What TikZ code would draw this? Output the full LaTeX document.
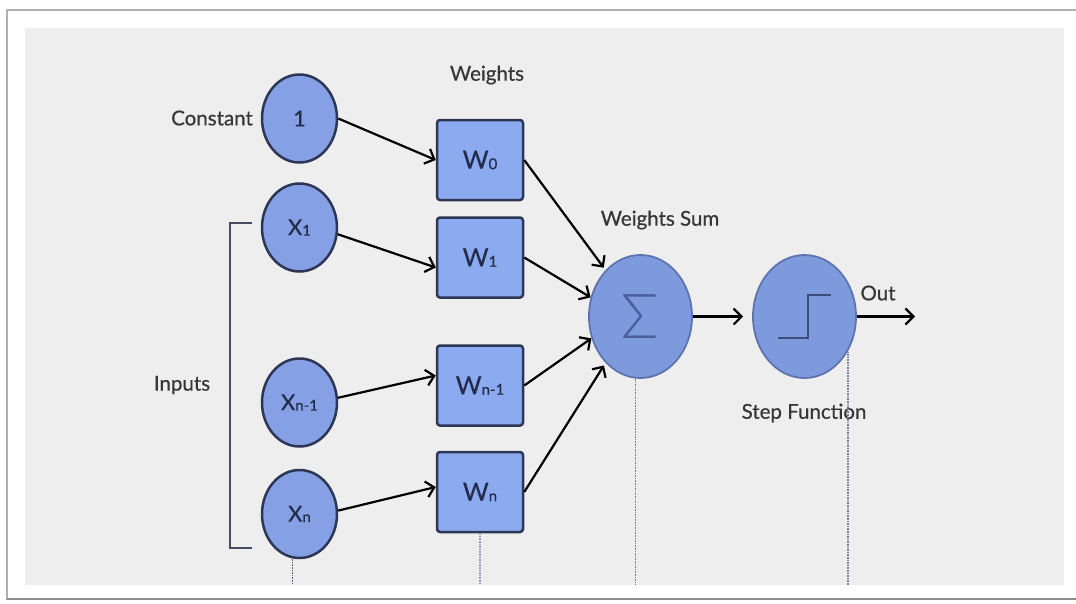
\documentclass[tikz,border=0pt]{standalone}
\usepackage{fontspec}
\setmainfont{Lato}[FakeBold=0.6]
\newfontfamily\thinlato{Lato Light}
\usetikzlibrary{shapes.geometric,arrows.meta,calc}

\definecolor{panel}{RGB}{238,238,238}
\definecolor{frameline}{RGB}{175,175,175}
\definecolor{infill}{RGB}{133,160,228}
\definecolor{inedge}{RGB}{45,55,85}
\definecolor{wfill}{RGB}{140,170,240}
\definecolor{sumfill}{RGB}{125,155,220}
\definecolor{sumedge}{RGB}{95,115,175}
\definecolor{glyph}{RGB}{75,95,155}
\definecolor{labeltext}{RGB}{55,55,55}
\definecolor{nodetext}{RGB}{35,45,75}
\definecolor{bracketc}{RGB}{70,75,95}
\definecolor{guidedark}{RGB}{90,90,105}
\definecolor{guidelight}{RGB}{140,155,210}
\definecolor{guide}{RGB}{115,125,165}

% small index letters set on the baseline
\newcommand\lowidx[1]{{\fontsize{15}{15}\selectfont\raisebox{-0.5pt}{#1}}}

\begin{document}
\begin{tikzpicture}[x=1pt,y=-1pt,
  inputnode/.style={ellipse, draw=inedge, line width=2.5pt, fill=infill,
    minimum width=75pt, minimum height=88pt, inner sep=0pt, text=nodetext,
    font=\fontsize{22}{22}\selectfont},
  weightbox/.style={rectangle, rounded corners=3pt, draw=inedge, line width=2.5pt,
    fill=wfill, minimum width=86pt, minimum height=80pt, inner sep=0pt,
    text=nodetext, font=\fontsize{25}{25}\selectfont},
  unitnode/.style={ellipse, draw=sumedge, line width=1.8pt, fill=sumfill,
    minimum width=103pt, minimum height=123pt, inner sep=0pt},
  caption/.style={text=labeltext, font=\fontsize{20.5}{20.5}\selectfont, inner sep=0pt},
  link/.style={draw=black, line width=2.2pt,
    -{Straight Barb[length=8pt,width=16pt]}},
  guideline/.style={densely dotted, line width=1.6pt}
]
\useasboundingbox (0,0) rectangle (1076,603);

% page, frame and grey panel
\fill[white] (0,0) rectangle (1076,603);
\draw[frameline, line width=1.5pt] (7,600) -- (7,10) -- (1076,10);
\draw[frameline!80!black, line width=2.5pt] (7,599) -- (1076,599);
\fill[panel] (25,28) rectangle (1064,585);
\coordinate (base) at (0,585);

% input bracket
\draw[bracketc, line width=2.2pt] (252,223) -- (230,223) -- (230,548) -- (252,548);

% input nodes
\node[inputnode] (one) at (299.5,118.5) {1};
\node[inputnode] (x1)  at (299.5,227.5) {X\lowidx{1}};
\node[inputnode] (xn1) at (299.5,402.5) {X\lowidx{n-1}};
\node[inputnode] (xn)  at (299.5,514)   {X\lowidx{n}};

% weights
\node[weightbox] (w0)  at (480,160)   {W\lowidx{0}};
\node[weightbox] (w1)  at (480,257.5) {W\lowidx{1}};
\node[weightbox] (wn1) at (480,385.5) {W\lowidx{n-1}};
\node[weightbox] (wn)  at (480,492)   {W\lowidx{n}};

% summation and activation
\node[unitnode] (sum)  at (640.5,316.5) {};
\node[text=glyph, font=\thinlato\fontsize{62}{62}\selectfont, inner sep=0pt] (sigma) at (sum.center) {Σ};
\node[unitnode] (step) at (804.5,316.5) {};
\draw[glyph!80!black, line width=2.4pt]
  ($(step.center)+(-26.5,21.5)$) -- ($(step.center)+(3.5,21.5)$)
  -- ($(step.center)+(3.5,-21.5)$) -- ($(step.center)+(26.5,-21.5)$);
\coordinate (out) at (915,316.5);

% captions
\node[caption] (lweights) at (487,75)  {Weights};
\node[caption] (lconst)   at (212,118) {Constant};
\node[caption] (linputs)  at (182,385) {Inputs};
\node[caption] (lsum)     at (660,220) {Weights Sum};
\node[caption] (lout)     at (878,293) {Out};
\node[caption] (lstep)    at (804,413) {Step Function};

% guide lines down to the panel edge
\draw[guideline, guidedark]  ([xshift=-7pt]xn.south) -- ([xshift=-7pt]xn.south |- base);
\draw[guideline, guidelight] (wn.south) -- (wn.south |- base);
\draw[guideline, guide] ([xshift=-5pt]sum.south) -- ([xshift=-5pt]sum.south |- base);
\draw[guideline, guide] (step.-39) -- (step.-39 |- base);

% connectors
\draw[link] (one.east) -- (w0.west);
\draw[link] (x1.-10) -- ([yshift=-10pt]w1.west);
\draw[link] (xn1.7) -- ([yshift=10pt]wn1.west);
\draw[link] (xn.5) -- ([yshift=5pt]wn.west);
\draw[link, shorten >=3pt] (w0.east) -- (sum.127);
\draw[link] (w1.east) -- (sum.159);
\draw[link] (wn1.east) -- (sum.204);
\draw[link, shorten >=3pt] (wn.east) -- (sum.233);
\draw[link, shorten >=9pt] (sum.east) -- (step.west);
\draw[link] (step.east) -- (out);
\end{tikzpicture}
\end{document}
